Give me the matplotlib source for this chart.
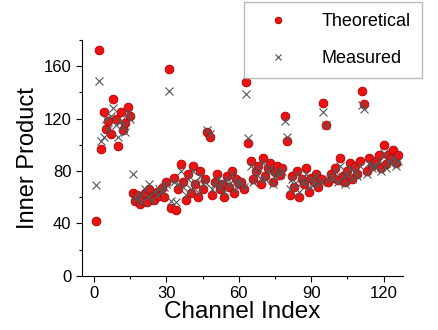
import numpy as np
import matplotlib
matplotlib.use("Agg")
import matplotlib.pyplot as plt
from matplotlib.ticker import MultipleLocator

plt.rcParams['font.family'] = ['Liberation Sans', 'DejaVu Sans']

# channel index 1..126
channels = np.arange(1, 127)

theoretical = [
    42, 172, 97, 125, 112, 118, 108, 135, 120, 99,
    125, 111, 117, 129, 122, 63, 57, 62, 55, 58,
    63, 56, 66, 60, 58, 64, 61, 67, 60, 72,
    158, 52, 75, 50, 66, 85, 72, 58, 78, 63,
    84, 70, 60, 80, 66, 74, 110, 106, 62, 72,
    78, 66, 70, 60, 76, 68, 80, 63, 74, 70,
    72, 66, 148, 101, 88, 74, 80, 84, 70, 90,
    76, 82, 86, 72, 79, 84, 77, 82, 122, 103,
    62, 76, 68, 80, 60, 74, 70, 82, 64, 75,
    72, 78, 68, 74, 132, 115, 72, 78, 75, 82,
    73, 90, 76, 72, 80, 86, 74, 84, 78, 88,
    141, 131, 80, 90, 84, 86, 88, 92, 82, 100,
    85, 92, 90, 96, 86, 92,
]

measured = [
    69, 149, 103, 106, 120, 112, 122, 128, 115, 106,
    118, 114, 110, 124, 120, 78, 60, 58, 62, 56,
    66, 60, 70, 58, 64, 62, 66, 64, 68, 70,
    141, 57, 72, 56, 70, 80, 68, 62, 74, 66,
    80, 72, 64, 76, 70, 72, 111, 108, 66, 70,
    74, 68, 72, 64, 74, 70, 78, 66, 72, 72,
    70, 68, 139, 105, 84, 72, 78, 82, 74, 86,
    74, 80, 82, 70, 76, 80, 78, 80, 118, 106,
    66, 74, 70, 78, 64, 72, 72, 78, 68, 74,
    70, 76, 70, 72, 125, 115, 74, 76, 74, 80,
    72, 84, 76, 70, 78, 82, 74, 80, 76, 84,
    130, 127, 78, 86, 82, 84, 84, 88, 80, 94,
    82, 88, 86, 90, 84, 88,
]

fig = plt.figure(figsize=(4.38, 3.30), dpi=100)
ax = fig.add_axes([0.187, 0.164, 0.733, 0.715])

ax.plot(channels, theoretical, 'o', color='#ee1111', markeredgecolor='#b00000',
        markeredgewidth=0.6, markersize=6.3, label='Theoretical', zorder=2)
ax.plot(channels, measured, 'x', color='#555555', markersize=6,
        markeredgewidth=0.8, label='Measured', zorder=3)

ax.set_xlim(-5, 128)
ax.set_ylim(0, 180)
ax.xaxis.set_major_locator(MultipleLocator(30))
ax.xaxis.set_minor_locator(MultipleLocator(15))
ax.yaxis.set_major_locator(MultipleLocator(40))
ax.yaxis.set_minor_locator(MultipleLocator(20))
ax.tick_params(which='major', direction='out', length=4, width=0.8, labelsize=12)
ax.tick_params(which='minor', direction='out', length=2, width=0.8)

ax.spines['top'].set_visible(False)
ax.spines['right'].set_visible(False)

ax.set_xlabel('Channel Index', fontsize=17.5, labelpad=0)
ax.set_ylabel('Inner Product', fontsize=17, labelpad=3)

leg = fig.legend(loc='upper left', bbox_to_anchor=(0.557, 0.993), fontsize=13,
                 numpoints=1, markerscale=0.75, frameon=True, fancybox=False,
                 borderaxespad=0, borderpad=0.6, handlelength=2.6,
                 handletextpad=1.1, labelspacing=1.1)
leg.get_frame().set_edgecolor('#aaaaaa')
leg.get_frame().set_linewidth(1.0)

plt.savefig('out.png', dpi=100)
